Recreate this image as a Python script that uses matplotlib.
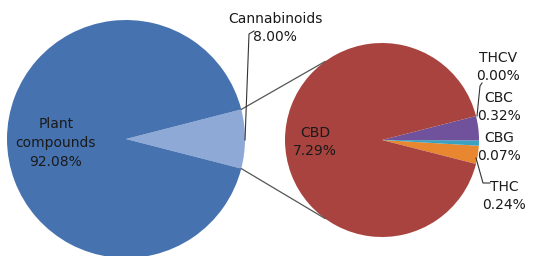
import matplotlib.pyplot as plt
import numpy as np

# Datos: pastel principal y desglose de cannabinoides
main_labels = ['Cannabinoids', 'Plant\ncompounds']
main_values = [8.00, 92.08]
sub_labels = ['THC', 'CBG', 'CBC', 'THCV', 'CBD']
sub_values = [0.24, 0.07, 0.32, 0.00, 7.29]

main_colors = ['#8fa9d6', '#4673b0']
sub_colors = ['#e8872f', '#3aa2c0', '#70519b', '#70519b', '#a8433f']

W, H = 533, 256
fig = plt.figure(figsize=(W / 100, H / 100), dpi=100)
ax = fig.add_axes([0, 0, 1, 1])
ax.set_aspect('equal')

# Centros y radios en pixeles (y hacia arriba)
c1, r1 = (126, 117), 119
c2, r2 = (382, 116), 97

# Pastel principal: la porcion de cannabinoides centrada en 0 grados
ang1 = main_values[0] / sum(main_values) * 360
ax.pie(main_values, colors=main_colors, startangle=-ang1 / 2, counterclock=True,
       center=c1, radius=r1, frame=True)

# Pastel secundario: porciones pequenas centradas en 0 grados
small = sum(sub_values[:-1])
ang2 = small / sum(sub_values) * 360
ax.pie(sub_values, colors=sub_colors, startangle=-ang2 / 2, counterclock=True,
       center=c2, radius=r2, frame=True)
ax.set_xlim(0, W)
ax.set_ylim(0, H)
ax.axis('off')

# Lineas de conexion entre ambos pasteles
for s in (1, -1):
    a = np.deg2rad(s * ang1 / 2)
    b = np.deg2rad(s * 126)
    x0, y0 = c1[0] + r1 * np.cos(a), c1[1] + r1 * np.sin(a)
    x1, y1 = c2[0] + r2 * np.cos(b), c2[1] + r2 * np.sin(b)
    ax.plot([x0, x1], [y0, y1], color='#555555', lw=0.9)

fs = 10
txt = dict(fontsize=fs, ha='center', va='center', color='#1a1a1a', linespacing=1.45)

def fmt(name, v):
    return f"{name}\n{v:.2f}%"

# Etiquetas del pastel principal
ax.text(275, H - 28, fmt(main_labels[0], main_values[0]), **txt)
ax.plot([254, 249, 245], [H - 31, H - 34, H - 140], color='#333333', lw=0.8)
ax.text(56, H - 143, fmt(main_labels[1], main_values[1]), **txt)

# Etiquetas del pastel secundario
ax.text(315, H - 142, fmt(sub_labels[4], sub_values[4]), **txt)
ax.text(498, H - 67, fmt(sub_labels[3], sub_values[3]), **txt)
ax.text(499, H - 107, fmt(sub_labels[2], sub_values[2]), **txt)
ax.text(499, H - 147, fmt(sub_labels[1], sub_values[1]), **txt)
ax.text(504, H - 196, fmt(sub_labels[0], sub_values[0]), **txt)

ax.plot([482, 480, 477], [H - 83, H - 86, H - 116], color='#333333', lw=0.8)
ax.plot([476, 483, 490], [H - 158, H - 183, H - 183], color='#333333', lw=0.8)

fig.savefig('out.png', dpi=100, facecolor='white')
